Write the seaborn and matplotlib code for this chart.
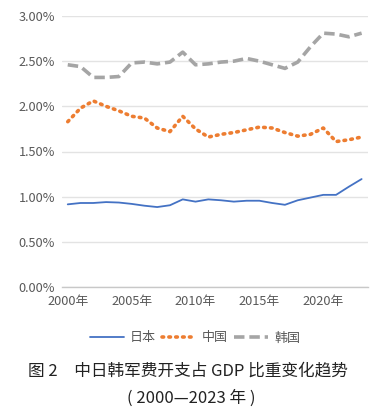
import matplotlib
matplotlib.use("Agg")
import matplotlib.pyplot as plt
import seaborn as sns
import pandas as pd
from matplotlib.ticker import FuncFormatter
from matplotlib.lines import Line2D

years = list(range(2000, 2024))
japan = [0.915, 0.93, 0.93, 0.94, 0.935, 0.92, 0.90, 0.885, 0.905, 0.97,
         0.945, 0.97, 0.96, 0.945, 0.955, 0.955, 0.93, 0.91, 0.96, 0.99,
         1.02, 1.02, 1.11, 1.195]
china = [1.83, 1.98, 2.06, 2.00, 1.95, 1.89, 1.87, 1.76, 1.72, 1.89,
         1.75, 1.66, 1.69, 1.71, 1.74, 1.77, 1.76, 1.71, 1.67, 1.69,
         1.76, 1.61, 1.63, 1.66]
korea = [2.46, 2.44, 2.32, 2.32, 2.33, 2.48, 2.49, 2.47, 2.49, 2.60,
         2.46, 2.47, 2.49, 2.50, 2.53, 2.50, 2.46, 2.42, 2.49, 2.66,
         2.81, 2.80, 2.77, 2.81]
series_names = ["日本", "中国", "韩国"]
colors = ["#4472C4", "#ED7D31", "#A5A5A5"]
xtick_years = [2000, 2005, 2010, 2015, 2020]
title1 = "图 2　中日韩军费开支占 GDP 比重变化趋势"
title2 = "( 2000—2023 年 )"

df = pd.DataFrame({
    "idx": list(range(len(years))) * 3,
    "value": japan + china + korea,
    "country": [series_names[0]] * 24 + [series_names[1]] * 24 + [series_names[2]] * 24,
})

sns.set_theme(style="white")
plt.rcParams['font.family'] = ['Noto Sans CJK SC', 'DejaVu Sans']

fig = plt.figure(figsize=(3.85, 4.12), dpi=100)
ax = fig.add_axes([62 / 385, 1 - 287 / 412, 306 / 385, 271 / 412])

sns.lineplot(data=df, x="idx", y="value", hue="country", palette=colors,
             ax=ax, legend=False, sort=False)

styles = [
    dict(lw=1.3, ls="-", cap=None),
    dict(lw=2.6, ls=(0, (0.45, 1.45)), cap="round"),
    dict(lw=2.6, ls=(0, (2.9, 1.35)), cap="butt"),
]
for ln, st, c in zip(ax.get_lines(), styles, colors):
    ln.set_linewidth(st["lw"])
    ln.set_linestyle(st["ls"])
    ln.set_color(c)
    if st["cap"]:
        ln.set_dash_capstyle(st["cap"])

ax.set_xlim(-0.45, 23.5)
ax.set_ylim(0, 3.0)
ax.set_yticks([0, 0.5, 1.0, 1.5, 2.0, 2.5, 3.0])
ax.yaxis.set_major_formatter(FuncFormatter(lambda v, p: f"{v:.2f}%"))
ax.set_xticks([years.index(y) for y in xtick_years])
ax.set_xticklabels([f"{y}年" for y in xtick_years])
ax.grid(axis="y", color="#E3E3E3", lw=1.0)
ax.set_axisbelow(True)
for s in ["top", "right", "left"]:
    ax.spines[s].set_visible(False)
ax.spines["bottom"].set_color("#C8C8C8")
ax.spines["bottom"].set_linewidth(1.0)
ax.tick_params(axis="both", length=0, labelsize=9.2, colors="#595959", pad=5)
ax.tick_params(axis="x", pad=6)
ax.set_xlabel("")
ax.set_ylabel("")

handles = []
for st, c in zip(styles, colors):
    h = Line2D([0], [0], color=c, lw=st["lw"], ls=st["ls"])
    if st["cap"]:
        h.set_dash_capstyle(st["cap"])
    handles.append(h)
fig.legend(handles, series_names, loc="center", bbox_to_anchor=(195 / 385, 1 - 338 / 412),
           ncol=3, frameon=False, fontsize=9.4, labelcolor="#595959",
           handlelength=2.6, handletextpad=0.45, columnspacing=0.5)

fig.text(188 / 385, 1 - 371 / 412, title1, ha="center", va="center", fontsize=12,
         color="#222222", fontweight="medium")
fig.text(191 / 385, 1 - 398 / 412, title2, ha="center", va="center", fontsize=12,
         color="#222222")

fig.savefig("out.png", dpi=100)
